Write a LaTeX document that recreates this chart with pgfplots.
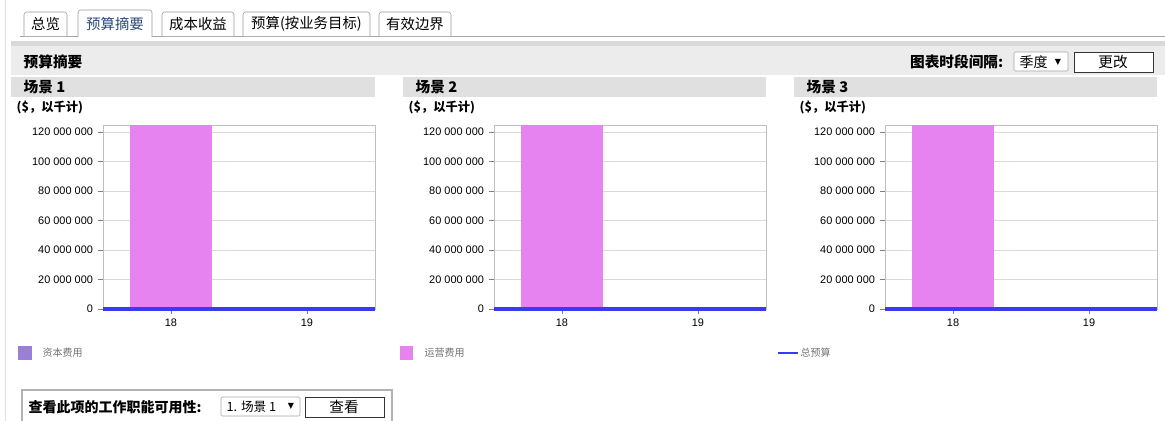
\documentclass[border=0pt]{standalone}
\usepackage{pgfplots}
\pgfplotsset{compat=1.18}
\usepackage{fontspec}
\setmainfont{Liberation Sans}
\newfontfamily\cjk{Noto Sans CJK SC}
\newfontfamily\sym{DejaVu Sans}
\definecolor{opex}{HTML}{E683F0}
\definecolor{capex}{HTML}{9A7FD6}
\definecolor{budget}{HTML}{3A3AF0}
\definecolor{band}{HTML}{ECECEC}
\definecolor{hdr}{HTML}{E0E0E0}
\definecolor{tabtxt}{HTML}{2A4A7A}

\pgfplotsset{
  scene/.style={
    scale only axis, width=204pt, height=138pt, anchor=south west,
    xmin=17.5, xmax=19.5, ymin=0, ymax=124700000,
    xtick={18,19}, ytick={0,20000000,...,120000000},
    scaled y ticks=false,
    /pgf/number format/.cd, fixed, 1000 sep={\ }, assume math mode=true,
    /pgfplots/.cd,
    ymajorgrids, grid style={draw=black!15},
    axis line style={draw=black!25},
    tick style={draw=black!50},
    tick align=outside, major tick length=4pt,
    xtick pos=bottom, ytick pos=left,
    ticklabel style={font=\fontsize{8.2}{9}\selectfont},
    clip=false,
  }
}

\begin{document}
\begin{tikzpicture}[x=0.75pt,y=0.75pt]
\path[use as bounding box] (0,0) rectangle (1165,-421);
\draw[black!12] (5,0) -- (5,-421);

% tabs
\draw[black!35] (20,-36) -- (1165,-36);
\foreach \a/\b/\t in {24/67/总览,162/234/成本收益,243/370/预算(按业务目标),379/451/有效边界}{
  \draw[black!40,fill=white,rounded corners=2pt] (\a,-36) -- (\a,-12) -- (\b,-12) -- (\b,-36);
  \node[font=\cjk\fontsize{10.8}{11}\selectfont] at ({(\a+\b)/2},-24) {\t};
}
\draw[black!40,fill=white,rounded corners=2pt] (78,-37) -- (78,-10) -- (152,-10) -- (152,-37);
\node[font=\cjk\fontsize{10.8}{11}\selectfont,text=tabtxt] at (115,-24) {预算摘要};

% header bands
\fill[black!15] (11,-41) rectangle (1165,-46);
\fill[band] (11,-46) rectangle (1165,-75);
\node[anchor=west,font=\cjk\bfseries\fontsize{11}{12}\selectfont] at (19,-62) {预算摘要};
\node[anchor=east,font=\cjk\bfseries\fontsize{11}{12}\selectfont] at (1008,-62) {图表时段间隔:};
\draw[black!35,fill=white,rounded corners=1pt] (1014,-52) rectangle (1068,-71);
\node[anchor=west,font=\cjk\fontsize{10.5}{11}\selectfont] at (1015,-62) {季度};
\node[font=\sym\fontsize{6}{7}\selectfont] at (1058,-62) {▼};
\draw[black!80,fill=white] (1074,-52) rectangle (1153,-72);
\node[font=\cjk\fontsize{11}{12}\selectfont] at (1113,-62) {更改};

\foreach \a/\b/\n in {11/375/1,403/766/2,794/1157/3}{
  \fill[hdr] (\a,-77) rectangle (\b,-97);
  \node[anchor=west,font=\cjk\bfseries\fontsize{11}{12}\selectfont] at (\a+8,-87) {场景 \n};
  \node[anchor=west,font=\cjk\bfseries\fontsize{9.2}{10}\selectfont] at (\a+1,-108) {(\$，以千计)};
}

% charts
\begin{axis}[scene, at={(77.25pt,-231.75pt)}]
  \addplot[ybar, bar width=0.6, fill=opex, draw=none] coordinates {(18,124700000) (19,0)};
  \addplot[budget, line width=2.6pt] coordinates {(17.5,0) (18,0) (19,0) (19.5,0)};
\end{axis}
\begin{axis}[scene, at={(370.5pt,-231.75pt)}]
  \addplot[ybar, bar width=0.6, fill=opex, draw=none] coordinates {(18,124700000) (19,0)};
  \addplot[budget, line width=2.6pt] coordinates {(17.5,0) (18,0) (19,0) (19.5,0)};
\end{axis}
\begin{axis}[scene, at={(663.75pt,-231.75pt)}]
  \addplot[ybar, bar width=0.6, fill=opex, draw=none] coordinates {(18,124700000) (19,0)};
  \addplot[budget, line width=2.6pt] coordinates {(17.5,0) (18,0) (19,0) (19.5,0)};
\end{axis}

% legend
\fill[capex] (18,-346) rectangle (32,-360);
\node[anchor=west,text=black!55,font=\cjk\fontsize{7.5}{8}\selectfont] at (38,-353) {资本费用};
\fill[opex] (400,-346) rectangle (413,-360);
\node[anchor=west,text=black!55,font=\cjk\fontsize{7.5}{8}\selectfont] at (420,-353) {运营费用};
\draw[budget,line width=1.8pt] (778,-353) -- (798,-353);
\node[anchor=west,text=black!55,font=\cjk\fontsize{7.5}{8}\selectfont,inner sep=1pt] at (799,-353) {总预算};

% bottom box
\draw[black!30,line width=1pt] (22,-423) -- (22,-390) -- (392,-390) -- (392,-423);
\node[anchor=west,font=\cjk\bfseries\fontsize{10.5}{11}\selectfont] at (24,-407) {查看此项的工作职能可用性:};
\draw[black!35,fill=white,rounded corners=1pt] (221,-397) rectangle (300,-416);
\node[anchor=west,font=\cjk\fontsize{9.5}{11}\selectfont] at (222,-407) {1. 场景 1};
\node[font=\sym\fontsize{6}{7}\selectfont] at (291,-406) {▼};
\draw[black!80,fill=white] (305,-397) rectangle (384,-417);
\node[font=\cjk\fontsize{11}{12}\selectfont] at (344,-407) {查看};
\end{tikzpicture}
\end{document}
